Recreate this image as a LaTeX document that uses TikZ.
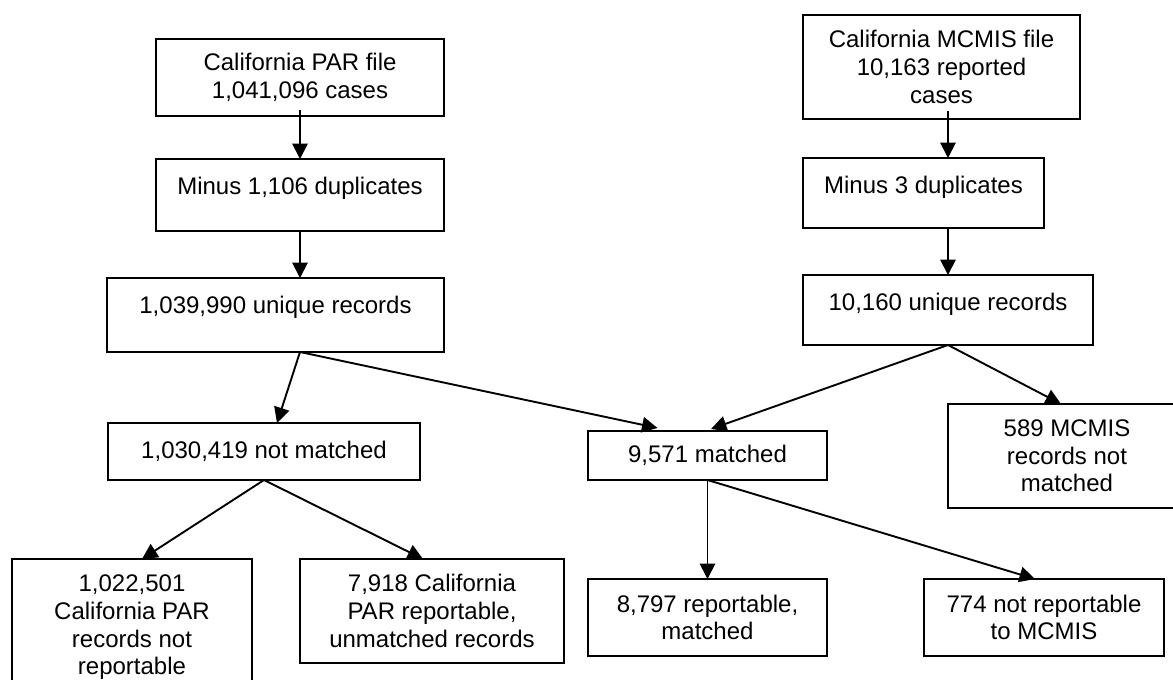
\documentclass[tikz,border=0pt]{standalone}
\usepackage{fontspec}
\setmainfont{Liberation Sans}
\usetikzlibrary{arrows.meta,calc}
\begin{document}
\begin{tikzpicture}[x=1pt,y=-1pt,
  box/.style={draw=black,line width=1.9pt,inner sep=0pt,outer sep=0pt,align=center,
    font=\fontsize{24}{27.6}\selectfont},
  topbox/.style={box,text height=17.5pt,text depth=#1},
  arr/.style={line width=1.9pt,-{Triangle[length=15.5pt,width=15.5pt]}}]
\useasboundingbox (0,0) rectangle (1173,680);
\clip (0,0) rectangle (1173,680);
% left column
\node[box,minimum width=288pt,minimum height=77pt] (b1) at (300,77.5) {California PAR file\\1,041,096 cases};
\node[topbox=19.5pt,minimum width=288pt,minimum height=72pt] (b2) at (300,195) {Minus 1,106 duplicates};
\node[topbox=21.5pt,minimum width=337pt,minimum height=74pt] (b3) at (275.5,315) {1,039,990 unique records};
% right column
\node[box,minimum width=277pt,minimum height=104pt] (b4) at (941.5,67) {California MCMIS file\\10,163 reported\\cases};
\node[topbox=17.5pt,minimum width=241pt,minimum height=70pt] (b5) at (923.5,193) {Minus 3 duplicates};
\node[topbox=17.5pt,minimum width=290pt,minimum height=70pt] (b6) at (948,310) {10,160 unique records};
% middle row
\node[box,minimum width=312pt,minimum height=57pt] (b7) at (264,451.5) {1,030,419 not matched};
\node[box,minimum width=239pt,minimum height=49pt] (b8) at (707.5,455.5) {9,571 matched};
\node[box,minimum width=238pt,minimum height=104pt] (b9) at (1067,456) {589 MCMIS\\records not\\matched};
% bottom row
\node[box,minimum width=240pt,minimum height=137pt] (b10) at (132,627.5) {1,022,501\\California PAR\\records not\\reportable};
\node[box,minimum width=264pt,minimum height=104pt] (b11) at (432,611) {7,918 California\\PAR reportable,\\unmatched records};
\node[box,minimum width=239pt,minimum height=77pt] (b12) at (707.5,617.5) {8,797 reportable,\\matched};
\node[box,minimum width=240pt,minimum height=77pt] (b13) at (1044,617.5) {774 not reportable\\to MCMIS};
% connectors
\draw[arr] ([yshift=6pt]b1.south) -- (b2.north);
\draw[arr] (b2.south) -- (b2.south |- b3.north);
\draw[arr] ([yshift=8pt]b4.south -| b6.north) -- (b5.north -| b6.north);
\draw[arr] (b5.south -| b6.north) -- (b6.north);
\coordinate (s3) at (b3.south -| b1.south);
\draw[arr] (s3) -- ($(b7.north)+(13,0)$);
\draw[arr] (s3) -- ($(b8.north)+(-50,-3)$);
\draw[arr] (b6.south) -- ($(b8.north)+(3.5,-2)$);
\draw[arr] (b6.south) -- ($(b9.north west)+(113,0)$);
\draw[arr] (b7.south) -- ($(b10.north)+(10,0)$);
\draw[arr] (b7.south) -- ($(b11.north)+(-9,0)$);
\draw[arr] (b8.south) -- (b12.north);
\draw[arr] (b8.south) -- ($(b13.north)+(-9,0)$);
\end{tikzpicture}
\end{document}
